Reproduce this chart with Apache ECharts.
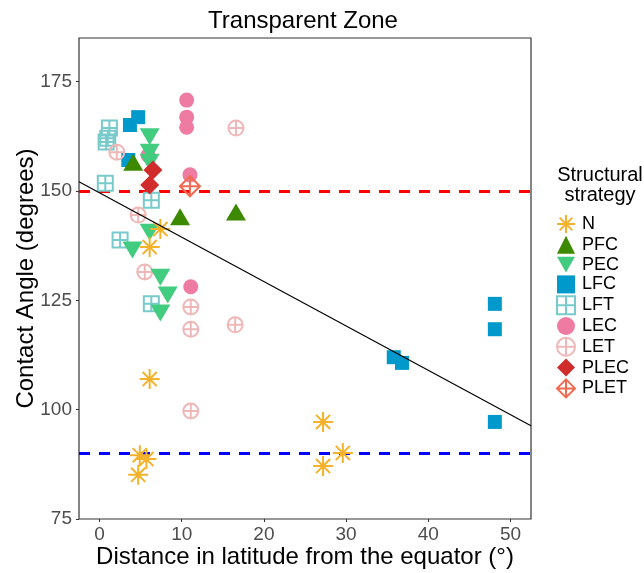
<!DOCTYPE html>
<html>
<head>
<meta charset="utf-8">
<script src="https://cdn.jsdelivr.net/npm/echarts@6/dist/echarts.min.js"></script>
<style>
html, body { margin: 0; padding: 0; background: #ffffff; }
#chart { width: 644px; height: 573px; }
</style>
</head>
<body>
<div id="chart"></div>
<script>
// Contact angle vs. distance in latitude, by structural strategy
const xTicks = [0, 10, 20, 30, 40, 50];
const yTicks = [75, 100, 125, 150, 175];
const strategies = ['N', 'PFC', 'PEC', 'LFC', 'LFT', 'LEC', 'LET', 'PLEC', 'PLET'];

const pointsN = [[6.1, 137.2], [7.4, 141.3], [6.1, 107.0], [4.9, 89.6], [5.7, 88.7], [4.7, 85.1], [27.2, 97.2], [27.2, 87.1], [29.6, 90.1]];
const pointsPFC = [[4.1, 156.6], [9.8, 144.1], [16.6, 145.2]];
const pointsPEC = [[6.1, 162.4], [6.1, 158.9], [6.1, 156.6], [6.1, 140.6], [4.0, 136.5], [7.4, 130.3], [8.3, 126.2], [7.4, 122.1]];
const pointsLFC = [[4.7, 166.9], [3.7, 165.1], [3.5, 157.1], [48.1, 124.2], [48.1, 118.4], [35.8, 112.0], [36.8, 110.7], [48.1, 97.2]];
const pointsLFT = [[1.2, 164.4], [1.0, 162.1], [0.8, 161.2], [0.7, 151.8], [6.3, 147.9], [2.5, 138.8], [6.3, 124.2]];
const pointsLEC = [[10.6, 170.8], [10.6, 166.9], [10.6, 164.6], [11.0, 153.7], [5.9, 158.2], [11.1, 128.1]];
const pointsLET = [[2.1, 158.9], [4.7, 144.5], [16.6, 164.4], [5.5, 131.5], [11.1, 123.5], [11.1, 118.4], [16.5, 119.4], [11.1, 99.7]];
const pointsPLEC = [[6.5, 154.8], [6.1, 151.4]];
const pointsPLET = [[11.0, 151.1]];

// Linear fit of contact angle on latitude distance
const fitIntercept = 149.6;
const fitSlope = -1.015;

// Reference angles
const upperRef = 150;
const lowerRef = 90;

const X_MIN = -2.5, X_MAX = 52.5, Y_MIN = 75, Y_MAX = 185;
const FONT = 'Liberation Sans, Arial, Helvetica, sans-serif';

// Marker paths
const STAR = 'path://M10,0L10,20M0,10L20,10M2.93,2.93L17.07,17.07M17.07,2.93L2.93,17.07';
const TRI_DOWN = 'path://M0,0L20,0L10,17.3Z';
const BOX_PLUS = 'path://M0,0L20,0L20,20L0,20ZM10,0L10,20M0,10L20,10';
const CIRCLE_PLUS = 'path://M0,10A10,10 0 1,1 20,10A10,10 0 1,1 0,10ZM10,0L10,20M0,10L20,10';
const DIAMOND_PLUS = 'path://M10,0L20,10L10,20L0,10ZM10,0L10,20M0,10L20,10';

const styles = {
  N:    { data: pointsN,    symbol: STAR,         size: 20,        color: '#F4B22A', open: true,  width: 2, z: 7 },
  PFC:  { data: pointsPFC,  symbol: 'triangle',   size: [20, 17],  color: '#3D8A00', open: false, z: 6 },
  PEC:  { data: pointsPEC,  symbol: TRI_DOWN,     size: [20, 17],  color: '#42CC80', open: false, z: 5 },
  LFC:  { data: pointsLFC,  symbol: 'rect',       size: 14,        color: '#0099CC', open: false, z: 2 },
  LFT:  { data: pointsLFT,  symbol: BOX_PLUS,     size: 15,        color: '#78CACB', open: true,  width: 2, z: 1 },
  LEC:  { data: pointsLEC,  symbol: 'circle',     size: 15,        color: '#EE7BA1', open: false, z: 4 },
  LET:  { data: pointsLET,  symbol: CIRCLE_PLUS,  size: 15,        color: '#F0B7B8', open: true,  width: 2, z: 3 },
  PLEC: { data: pointsPLEC, symbol: 'diamond',    size: 19,        color: '#D12C2C', open: false, z: 8 },
  PLET: { data: pointsPLET, symbol: DIAMOND_PLUS, size: 20,        color: '#F26A4F', open: true,  width: 2, z: 9 }
};

function itemStyleFor(s) {
  return s.open
    ? { color: 'rgba(255,255,255,0)', borderColor: s.color, borderWidth: s.width, opacity: 1 }
    : { color: s.color, borderWidth: 0, opacity: 1 };
}

const scatterSeries = strategies.map(name => {
  const s = styles[name];
  return {
    name: name,
    type: 'scatter',
    data: s.data,
    symbol: s.symbol,
    symbolSize: s.size,
    itemStyle: itemStyleFor(s),
    z: 10 + s.z,
    emphasis: { disabled: true },
    silent: true
  };
});

const fitLine = {
  name: 'fit',
  type: 'line',
  data: [[X_MIN, fitIntercept + fitSlope * X_MIN], [X_MAX, fitIntercept + fitSlope * X_MAX]],
  showSymbol: false,
  symbol: 'none',
  lineStyle: { color: '#000000', width: 1.2 },
  z: 30,
  silent: true,
  markLine: {
    silent: true,
    symbol: 'none',
    label: { show: false },
    data: [
      { yAxis: upperRef, lineStyle: { color: '#FF0000', type: [11, 9], width: 2.8 } },
      { yAxis: lowerRef, lineStyle: { color: '#0000FF', type: [11, 9], width: 2.8 } }
    ]
  }
};

const legendData = strategies.map(name => {
  const s = styles[name];
  return {
    name: name,
    icon: s.symbol,
    itemStyle: itemStyleFor(s)
  };
});

const chart = echarts.init(document.getElementById('chart'), null, { renderer: 'canvas' });
chart.setOption({
  animation: false,
  backgroundColor: '#ffffff',
  textStyle: { fontFamily: FONT },
  title: [
    {
      text: 'Transparent Zone',
      left: 298,
      top: 4,
      textAlign: 'center',
      textStyle: { fontFamily: FONT, fontSize: 24, fontWeight: 'normal', color: '#000000' }
    },
    {
      text: 'Structural\nstrategy',
      left: 595,
      top: 160,
      textAlign: 'center',
      textStyle: { fontFamily: FONT, fontSize: 20, fontWeight: 'normal', color: '#000000', lineHeight: 20 }
    }
  ],
  legend: {
    orient: 'vertical',
    left: 551,
    top: 209,
    itemWidth: 18,
    itemHeight: 18,
    itemGap: 1.8,
    selectedMode: false,
    textStyle: { fontFamily: FONT, fontSize: 18, color: '#000000', padding: [0, 0, 0, 2] },
    data: legendData
  },
  grid: {
    left: 79,
    right: 113,
    top: 38,
    bottom: 54,
    outerBoundsMode: 'none',
    containLabel: false,
    show: true,
    borderColor: '#333333',
    borderWidth: 1.2,
    backgroundColor: '#ffffff'
  },
  xAxis: {
    type: 'value',
    min: X_MIN,
    max: X_MAX,
    name: 'Distance in latitude from the equator (°)',
    nameLocation: 'middle',
    nameGap: 26,
    nameMoveOverlap: false,
    nameTextStyle: { fontFamily: FONT, fontSize: 24, color: '#000000' },
    axisLine: { show: false, onZero: false },
    axisTick: { show: true, length: 3, customValues: xTicks, lineStyle: { color: '#333333' } },
    axisLabel: { customValues: xTicks, fontFamily: FONT, fontSize: 19, color: '#4D4D4D', margin: 6 },
    splitLine: { show: false }
  },
  yAxis: {
    type: 'value',
    min: Y_MIN,
    max: Y_MAX,
    name: 'Contact Angle (degrees)',
    nameLocation: 'middle',
    nameGap: 41,
    nameMoveOverlap: false,
    nameTextStyle: { fontFamily: FONT, fontSize: 24, color: '#000000' },
    axisLine: { show: false, onZero: false },
    axisTick: { show: true, length: 3, customValues: yTicks, lineStyle: { color: '#333333' } },
    axisLabel: { customValues: yTicks, fontFamily: FONT, fontSize: 19, color: '#4D4D4D', margin: 7 },
    splitLine: { show: false }
  },
  series: [fitLine].concat(scatterSeries)
});
</script>
</body>
</html>
